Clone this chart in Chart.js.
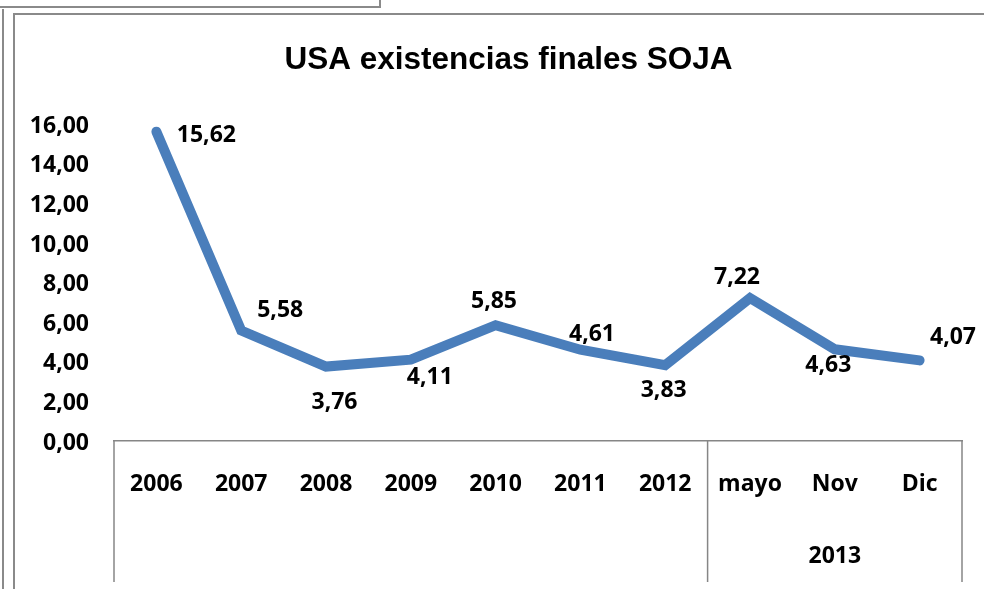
<!DOCTYPE html>
<html lang="es">
<head>
  <meta charset="UTF-8" />
  <title>USA existencias finales SOJA</title>
  <script src="https://cdn.jsdelivr.net/npm/chart.js"></script>
  <style>
    html, body {
      margin: 0;
      padding: 0;
      background: #fff;
      width: 984px;
      height: 589px;
      overflow: hidden;
    }
    .frame { position: absolute; border-color: #8a8a8a; border-style: solid; }
    #topBox { left: -4px; top: -4px; width: 381px; height: 8px; border-width: 2px; }
    #outerLeft { left: 2px; top: 9px; width: 0; height: 600px; border-width: 0 0 0 2px; }
    #chartFrame { left: 13px; top: 13px; width: 1000px; height: 600px; border-width: 2px 0 0 2px; }
    #wrap { position: absolute; left: 0; top: 0; width: 984px; height: 589px; }
  </style>
</head>
<body>
  <div class="frame" id="topBox"></div>
  <div class="frame" id="outerLeft"></div>
  <div class="frame" id="chartFrame"></div>
  <div id="wrap"><canvas id="stockChart" width="984" height="589"></canvas></div>

  <script>
    // data
    const chartTitle = 'USA existencias finales SOJA';
    const categories = ['2006', '2007', '2008', '2009', '2010', '2011', '2012', 'mayo', 'Nov', 'Dic'];
    const stocks = [15.62, 5.58, 3.76, 4.11, 5.85, 4.61, 3.83, 7.22, 4.63, 4.07];
    const groupNames = ['', '2013'];
    const groupSizes = [7, 3];
    const yMin = 0, yMax = 16, yStep = 2;

    // where each value label sits relative to its point (px)
    const labelOffsets = [[50, 1.5], [39, -22], [8.5, 33.5], [19, 15.5], [-1.6, -25.6],
                          [11.6, -17], [-1.5, 23], [-13, -23], [-6.5, 14], [33.4, -25.4]];

    const fmt = v => v.toFixed(2).replace('.', ',');
    const tickFont = { family: "'Open Sans', sans-serif", size: 23, weight: 'bold' };
    const axisGrey = '#868686';

    const extras = {
      id: 'extras',
      afterDatasetsDraw(chart) {
        const ctx = chart.ctx;
        const x = chart.scales.x, y = chart.scales.y;
        const meta = chart.getDatasetMeta(0);
        ctx.save();

        // title, centred like the original (not over the whole canvas)
        ctx.font = "bold 31.5px 'Liberation Sans', Arial, sans-serif";
        ctx.fillStyle = '#000';
        ctx.textAlign = 'center';
        ctx.textBaseline = 'alphabetic';
        ctx.fillText(chartTitle, 508.5, 68.5);

        ctx.font = "bold 23px 'Open Sans', sans-serif";
        ctx.textBaseline = 'middle';
        meta.data.forEach((pt, i) => {
          const [dx, dy] = labelOffsets[i];
          ctx.fillText(fmt(stocks[i]), pt.x + dx, pt.y + dy + 2);
        });

        // multi-level category dividers and group names
        const axisY = y.getPixelForValue(0);
        const bottom = 582;
        ctx.strokeStyle = axisGrey;
        ctx.lineWidth = 1.5;
        ctx.beginPath();
        ctx.moveTo(x.getPixelForValue(-0.5), axisY);
        ctx.lineTo(x.getPixelForValue(-0.5), bottom);
        let start = 0;
        groupSizes.forEach((n, g) => {
          const end = start + n;
          const edge = x.getPixelForValue(end - 0.5);
          ctx.moveTo(edge, axisY);
          ctx.lineTo(edge, bottom);
          if (groupNames[g]) {
            const mid = (x.getPixelForValue(start) + x.getPixelForValue(end - 1)) / 2;
            ctx.fillText(groupNames[g], mid, 556);
          }
          start = end;
        });
        ctx.stroke();
        ctx.restore();
      }
    };

    new Chart(document.getElementById('stockChart'), {
      type: 'line',
      data: {
        labels: categories,
        datasets: [{
          data: stocks,
          borderColor: '#4A7EBB',
          borderWidth: 10,
          borderCapStyle: 'round',
          borderJoinStyle: 'miter',
          pointRadius: 0,
          tension: 0,
          clip: false
        }]
      },
      options: {
        responsive: false,
        animation: false,
        devicePixelRatio: 1,
        layout: { padding: { left: 0, right: 22, top: 124.2, bottom: 0 } },
        plugins: {
          legend: { display: false },
          tooltip: { enabled: false },
          title: { display: false }
        },
        scales: {
          x: {
            offset: true,
            grid: { display: false, drawTicks: false },
            border: { display: true, color: axisGrey, width: 1.5 },
            ticks: { color: '#000', font: tickFont, padding: 30, maxRotation: 0, autoSkip: false },
            afterFit: s => { s.height = 148; }
          },
          y: {
            min: yMin,
            max: yMax,
            grid: { display: false, drawTicks: false },
            border: { display: false },
            ticks: { stepSize: yStep, color: '#000', font: tickFont, padding: 25, labelOffset: 2, callback: v => fmt(v) },
            afterFit: s => { s.width = 114; }
          }
        }
      },
      plugins: [extras]
    });
  </script>
</body>
</html>
